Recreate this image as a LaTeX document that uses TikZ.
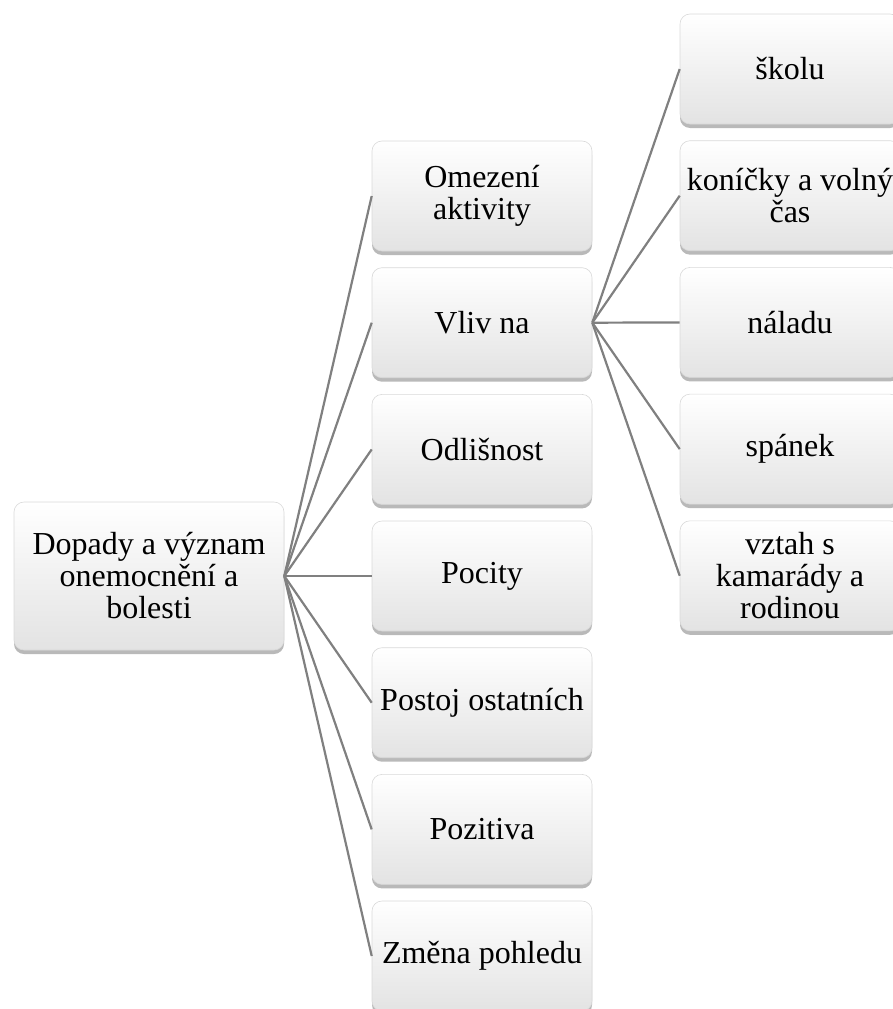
\documentclass[tikz,border=0pt]{standalone}
\usepackage{fontspec}
\setmainfont{Liberation Serif}
\usetikzlibrary{shadows}

\tikzset{
  box/.style={rounded corners=10pt, draw=gray!30, line width=0.6pt,
    top color=white, bottom color=black!11, minimum width=220pt,
    minimum height=110pt, align=center, inner sep=1pt,
    font=\fontsize{32}{32}\selectfont,
    drop shadow={shadow xshift=0pt, shadow yshift=-4pt, opacity=0.5, fill=black!55}},
  link/.style={draw=gray, line width=2.2pt}
}

\begin{document}
\begin{tikzpicture}[x=1pt, y=-1pt]
\useasboundingbox (0,0) rectangle (893,1009);
\clip (0,0) rectangle (893,1009);
% root
\node[box, minimum width=270pt, minimum height=148pt] (root) at (149,576) {Dopady a význam\\onemocnění a\\bolesti};
% middle column
\node[box] (omez) at (482,196) {Omezení\\aktivity};
\node[box] (vliv) at (482,322.7) {Vliv na};
\node[box] (odl) at (482,449.4) {Odlišnost};
\node[box] (pocity) at (482,576) {Pocity};
\node[box] (postoj) at (482,702.7) {Postoj ostatních};
\node[box] (poz) at (482,829.4) {Pozitiva};
\node[box] (zmena) at (482,956) {Změna pohledu};
% right column
\node[box] (skola) at (790,69) {školu};
\node[box] (konicky) at (790,195.7) {koníčky a volný\\čas};
\node[box] (nalada) at (790,322.4) {náladu};
\node[box] (spanek) at (790,449.1) {spánek};
\node[box] (vztah) at (790,575.8) {vztah s\\kamarády a\\rodinou};
% links
\draw[link] (root.east) -- (omez.west);
\draw[link] (root.east) -- (vliv.west);
\draw[link] (root.east) -- (odl.west);
\draw[link] (root.east) -- (pocity.west);
\draw[link] (root.east) -- (postoj.west);
\draw[link] (root.east) -- (poz.west);
\draw[link] (root.east) -- (zmena.west);
\draw[link] (vliv.east) -- (skola.west);
\draw[link] (vliv.east) -- (konicky.west);
\draw[link] (vliv.east) -- (nalada.west);
\draw[link] (vliv.east) -- (spanek.west);
\draw[link] (vliv.east) -- (vztah.west);
\end{tikzpicture}
\end{document}
